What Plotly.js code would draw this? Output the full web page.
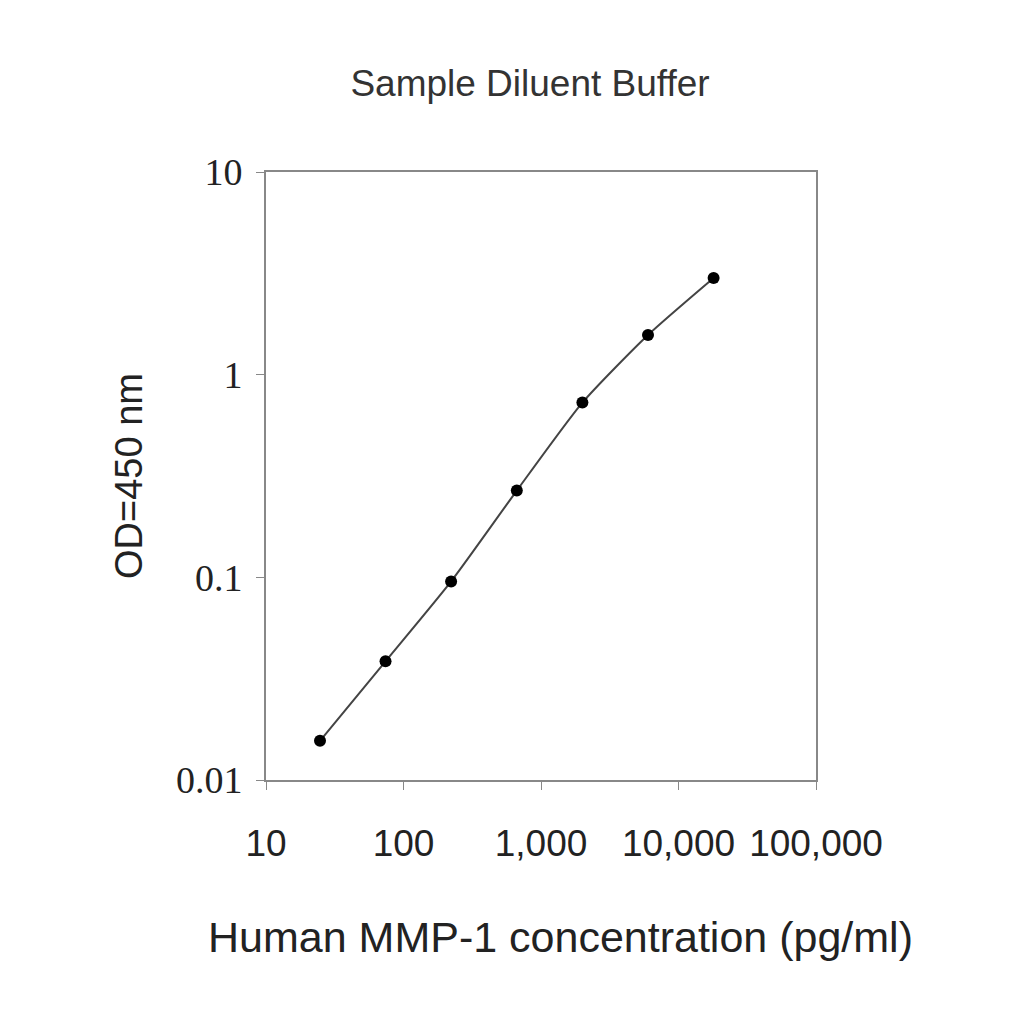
<!DOCTYPE html>
<html>
<head>
<meta charset="utf-8">
<script src="https://cdn.plot.ly/plotly-3.0.1.min.js"></script>
<style>
  html, body { margin: 0; padding: 0; background: #fff; }
  #chart { width: 1024px; height: 1024px; }
</style>
</head>
<body>
<div id="chart"></div>
<script>
// standard curve: 3-fold dilutions (pg/ml) and OD readings
var concentration = [24.7, 74, 222, 667, 2000, 6000, 18000];
var od450 = [0.0156, 0.0385, 0.0955, 0.268, 0.728, 1.57, 3.0];

var xTickVals = [10, 100, 1000, 10000, 100000];
var xTickText = ['10', '100', '1,000', '10,000', '100,000'];
var yTickVals = [0.01, 0.1, 1, 10];
var yTickText = ['0.01', '0.1', '1', '10'];

var curve = {
    x: concentration,
    y: od450,
    mode: 'lines+markers',
    type: 'scatter',
    line: {color: '#444', width: 2, shape: 'spline', smoothing: 0.6},
    marker: {color: '#000', size: 12},
    showlegend: false,
    hoverinfo: 'x+y'
};

var layout = {
    width: 1024,
    height: 1024,
    paper_bgcolor: '#fff',
    plot_bgcolor: '#fff',
    margin: {l: 266, r: 208, t: 172, b: 244, pad: 0},
    title: {
        text: 'Sample Diluent Buffer',
        font: {family: 'Liberation Sans, Arial, sans-serif', size: 37, color: '#333'},
        xref: 'paper', x: 0.48, xanchor: 'center',
        yref: 'container', y: 0.919, yanchor: 'middle'
    },
    xaxis: {
        type: 'log',
        range: [1, 5],
        tickvals: xTickVals,
        ticktext: xTickText,
        ticks: 'outside',
        ticklen: 8,
        tickcolor: '#888',
        ticklabelstandoff: 22,
        tickfont: {family: 'Liberation Sans, Arial, sans-serif', size: 37, color: '#222'},
        showline: true,
        linecolor: '#888',
        linewidth: 2,
        mirror: true,
        showgrid: false,
        zeroline: false
    },
    yaxis: {
        type: 'log',
        range: [-2, 1],
        tickvals: yTickVals,
        ticktext: yTickText,
        ticks: 'outside',
        ticklen: 8,
        tickcolor: '#888',
        ticklabelstandoff: 6,
        tickfont: {family: 'Liberation Serif, Times New Roman, serif', size: 38, color: '#222'},
        showline: true,
        linecolor: '#888',
        linewidth: 2,
        mirror: true,
        showgrid: false,
        zeroline: false,
        title: {
            text: 'OD=450 nm',
            font: {family: 'Liberation Sans, Arial, sans-serif', size: 38, color: '#222'},
            standoff: 22
        }
    },
    // x axis title sits a little right of the plot centre in the original
    annotations: [{
        text: 'Human MMP-1 concentration (pg/ml)',
        xref: 'paper', yref: 'paper',
        x: 0.535, y: -0.258,
        xanchor: 'center', yanchor: 'middle',
        showarrow: false,
        font: {family: 'Liberation Sans, Arial, sans-serif', size: 43, color: '#222'}
    }],
    showlegend: false
};

Plotly.newPlot('chart', [curve], layout, {displayModeBar: false, staticPlot: true});
</script>
</body>
</html>
